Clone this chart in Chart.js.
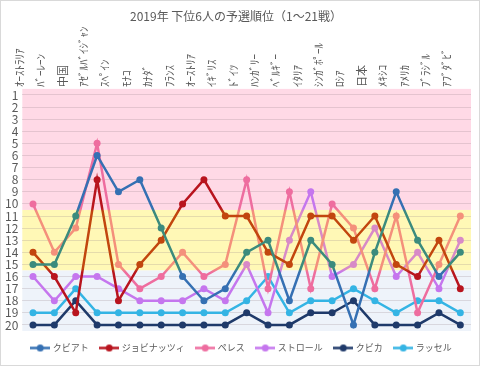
<!DOCTYPE html>
<html>
<head>
<meta charset="utf-8">
<script src="https://cdn.jsdelivr.net/npm/chart.js@4.4.0/dist/chart.umd.min.js"></script>
<style>
  html, body { margin: 0; padding: 0; background: #fff; }
</style>
</head>
<body>
<canvas id="chart" width="480" height="366"></canvas>
<script>
// race names (x axis, top)
var races = ['ｵｰｽﾄﾗﾘｱ', 'ﾊﾞｰﾚｰﾝ', '中国', 'ｱｾﾞﾙﾊﾞｲｼﾞｬﾝ', 'ｽﾍﾟｲﾝ', 'ﾓﾅｺ', 'ｶﾅﾀﾞ', 'ﾌﾗﾝｽ',
             'ｵｰｽﾄﾘｱ', 'ｲｷﾞﾘｽ', 'ﾄﾞｲﾂ', 'ﾊﾝｶﾞﾘｰ', 'ﾍﾞﾙｷﾞｰ', 'ｲﾀﾘｱ', 'ｼﾝｶﾞﾎﾟｰﾙ', 'ﾛｼｱ',
             '日本', 'ﾒｷｼｺ', 'ｱﾒﾘｶ', 'ﾌﾞﾗｼﾞﾙ', 'ｱﾌﾞﾀﾞﾋﾞ'];

// qualifying position per race
var kvyat      = [15, 15, 11, 6, 9, 8, 12, 16, 18, 17, 14, 13, 18, 13, 15, 20, 14, 9, 13, 16, 14];
var giovinazzi = [14, 16, 19, 8, 18, 15, 13, 10, 8, 11, 11, 14, 15, 11, 11, 13, 11, 15, 16, 13, 17];
var perez      = [10, 14, 12, 5, 15, 17, 16, 14, 16, 15, 8, 17, 9, 17, 10, 12, 17, 11, 19, 15, 11];
var stroll     = [16, 18, 16, 16, 17, 18, 18, 18, 17, 18, 15, 19, 13, 9, 16, 15, 12, 16, 14, 17, 13];
var kubica     = [20, 20, 18, 20, 20, 20, 20, 20, 20, 20, 19, 20, 20, 19, 19, 18, 20, 20, 20, 19, 20];
var russell    = [19, 19, 17, 19, 19, 19, 19, 19, 19, 19, 18, 16, 19, 18, 18, 17, 18, 19, 18, 18, 19];

var drivers = ['クビアト', 'ジョビナッツィ', 'ペレス', 'ストロール', 'クビカ', 'ラッセル'];
var positionTicks = [1, 2, 3, 4, 5, 6, 7, 8, 9, 10, 11, 12, 13, 14, 15, 16, 17, 18, 19, 20];

// background zones (position limits)
var bandLimits = [0.5, 10.5, 15.5, 20.5];
var bandColors = ['#FFD9E6', '#FFF8B6', '#EEF3FA'];

// line colour outside / inside the yellow zone
var mainColors = ['#3570B3', '#B8141E', '#EE6D9F', '#C576EE', '#1F3A6A', '#34B4E4'];
var altColors  = ['#3B8B7D', '#C2460E', '#F4907B', '#D88AC7', '#1F3A6A', '#34B4E4'];

var textColor = '#595959';
var fontFamily = '"Noto Sans CJK JP", "Noto Sans", sans-serif';

function inYellow(v) {
    return v > bandLimits[1] && v < bandLimits[2];
}

function zoneGradient(chart, main, alt) {
    var area = chart.chartArea;
    var y = chart.scales.y;
    if (!area || !y) return main;
    var h = area.bottom - area.top;
    var f = function (v) { return Math.min(1, Math.max(0, (y.getPixelForValue(v) - area.top) / h)); };
    var g = chart.ctx.createLinearGradient(0, area.top, 0, area.bottom);
    var a = f(bandLimits[1]), b = f(bandLimits[2]);
    g.addColorStop(0, main);
    g.addColorStop(a - 0.008, main);
    g.addColorStop(a + 0.008, alt);
    g.addColorStop(b - 0.008, alt);
    g.addColorStop(b + 0.008, main);
    g.addColorStop(1, main);
    return g;
}

function legendIcon(color) {
    var c = document.createElement('canvas');
    c.width = 20;
    c.height = 9;
    var x = c.getContext('2d');
    x.strokeStyle = color;
    x.lineWidth = 2.5;
    x.beginPath();
    x.moveTo(0, 4.5);
    x.lineTo(20, 4.5);
    x.stroke();
    x.fillStyle = color;
    x.beginPath();
    x.arc(10, 4.5, 3.5, 0, Math.PI * 2);
    x.fill();
    return c;
}

var series = [kvyat, giovinazzi, perez, stroll, kubica, russell];
var datasets = series.map(function (values, i) {
    var main = mainColors[i], alt = altColors[i];
    var pick = function (ctx) { return inYellow(ctx.raw) ? alt : main; };
    return {
        label: drivers[i],
        data: values,
        borderColor: function (ctx) { return zoneGradient(ctx.chart, main, alt); },
        backgroundColor: main,
        pointBackgroundColor: pick,
        pointBorderColor: pick,
        borderWidth: 2.5,
        pointRadius: 3.5,
        pointBorderWidth: 0,
        tension: 0,
        fill: false
    };
});

var bandPlugin = {
    id: 'bands',
    afterLayout: function (chart) {
        // legend sits a little right of centre in the original
        chart.legend.left += 6;
        chart.legend.right += 6;
    },
    beforeDraw: function (chart) {
        var ctx = chart.ctx, area = chart.chartArea, y = chart.scales.y;
        ctx.save();
        for (var i = 0; i < bandColors.length; i++) {
            var top = y.getPixelForValue(bandLimits[i]);
            var bottom = y.getPixelForValue(bandLimits[i + 1]);
            ctx.fillStyle = bandColors[i];
            ctx.fillRect(area.left, top, area.right - area.left, bottom - top);
        }
        ctx.restore();
    },
    afterDraw: function (chart) {
        var ctx = chart.ctx;
        ctx.save();
        ctx.strokeStyle = '#D9D9D9';
        ctx.lineWidth = 1;
        ctx.strokeRect(0.5, 0.5, chart.width - 1, chart.height - 1);
        ctx.restore();
    }
};

Chart.defaults.font.family = fontFamily;
Chart.defaults.color = textColor;

new Chart(document.getElementById('chart').getContext('2d'), {
    type: 'line',
    data: { labels: races, datasets: datasets },
    plugins: [bandPlugin],
    options: {
        responsive: false,
        animation: false,
        devicePixelRatio: 1,
        layout: { padding: { left: 1, right: 9, top: 0, bottom: 3.5 } },
        plugins: {
            title: {
                display: true,
                text: '2019年 下位6人の予選順位（1〜21戦）',
                color: textColor,
                font: { size: 12, weight: 'normal' },
                padding: { top: 9, bottom: 1 }
            },
            legend: {
                position: 'bottom',
                labels: {
                    usePointStyle: true,
                    pointStyleWidth: 16,
                    boxHeight: 9,
                    padding: 12.5,
                    color: textColor,
                    font: { size: 9 },
                    generateLabels: function (chart) {
                        var items = Chart.defaults.plugins.legend.labels.generateLabels(chart);
                        items.forEach(function (item, i) {
                            item.pointStyle = legendIcon(mainColors[i]);
                        });
                        return items;
                    }
                }
            },
            tooltip: { enabled: false }
        },
        scales: {
            x: {
                position: 'top',
                offset: true,
                grid: { display: false, drawTicks: false },
                border: { display: false },
                ticks: {
                    autoSkip: false,
                    minRotation: 90,
                    maxRotation: 90,
                    padding: 2,
                    color: textColor,
                    font: { size: 11 }
                }
            },
            y: {
                reverse: true,
                min: 0.5,
                max: 20.5,
                afterBuildTicks: function (axis) {
                    axis.ticks = positionTicks.map(function (v) { return { value: v }; });
                },
                grid: { color: 'rgba(150, 130, 140, 0.25)', drawTicks: false },
                border: { display: false },
                ticks: {
                    autoSkip: false,
                    padding: 4,
                    color: textColor,
                    font: { size: 12 }
                }
            }
        }
    }
});
</script>
</body>
</html>
